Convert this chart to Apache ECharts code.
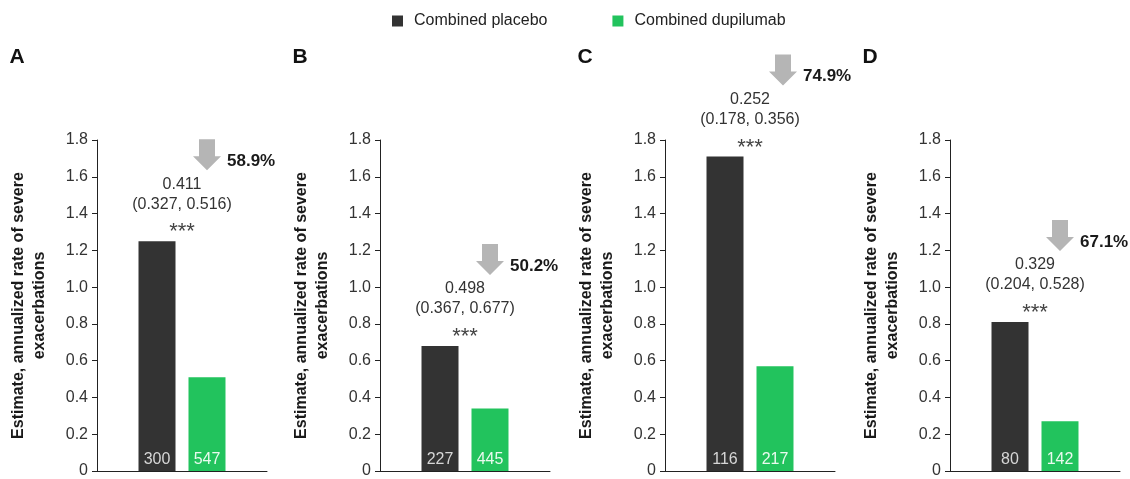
<!DOCTYPE html>
<html>
<head>
<meta charset="utf-8">
<script src="https://cdn.jsdelivr.net/npm/echarts@6/dist/echarts.min.js"></script>
<style>
  html, body { margin: 0; padding: 0; background: #fff; }
  #chart { width: 1130px; height: 479px; }
</style>
</head>
<body>
<div id="chart"></div>
<script>
// Annualized severe exacerbation rates, four subgroups
const panels = ['A', 'B', 'C', 'D'];
const seriesNames = ['Combined placebo', 'Combined dupilumab'];
const placeboRate = [1.25, 0.68, 1.71, 0.81];
const dupilumabRate = [0.51, 0.34, 0.57, 0.27];
const placeboN = [300, 227, 116, 80];
const dupilumabN = [547, 445, 217, 142];
const rateRatio = ['0.411', '0.498', '0.252', '0.329'];
const ratioCI = ['(0.327, 0.516)', '(0.367, 0.677)', '(0.178, 0.356)', '(0.204, 0.528)'];
const significance = ['***', '***', '***', '***'];
const reduction = ['58.9%', '50.2%', '74.9%', '67.1%'];
const yTicks = [0, 0.2, 0.4, 0.6, 0.8, 1.0, 1.2, 1.4, 1.6, 1.8];

const FONT = '"Liberation Sans", Arial, Helvetica, sans-serif';
const COLORS = ['#333333', '#22c35d'];
const gridLefts = [97, 380, 665, 950];
const BAR_W = 37, BAR_GAP = 13;

const chart = echarts.init(document.getElementById('chart'), null, { renderer: 'canvas' });

const grids = [], xAxes = [], yAxes = [], series = [];
panels.forEach((p, i) => {
  grids.push({ left: gridLefts[i], width: 170, top: 140, height: 332 });
  xAxes.push({
    type: 'category', gridIndex: i, data: [p],
    axisLine: { lineStyle: { color: '#222', width: 1 } },
    axisTick: { show: false }, axisLabel: { show: false }
  });
  yAxes.push({
    type: 'value', gridIndex: i, min: yTicks[0], max: yTicks[yTicks.length - 1], interval: 0.2,
    name: 'Estimate, annualized rate of severe\nexacerbations',
    nameLocation: 'middle', nameRotate: 90, nameGap: 47,
    nameTextStyle: { fontFamily: FONT, fontSize: 16, fontWeight: 'bold', color: '#1a1a1a', lineHeight: 21 },
    axisLine: { show: true, lineStyle: { color: '#222', width: 1 } },
    axisTick: { show: true, length: 5, lineStyle: { color: '#222' } },
    axisLabel: {
      fontFamily: FONT, fontSize: 16, color: '#333', margin: 9,
      formatter: v => (v === 0 ? '0' : v.toFixed(1))
    },
    splitLine: { show: false }
  });
  [placeboRate, dupilumabRate].forEach((vals, k) => {
    const nVals = k === 0 ? placeboN : dupilumabN;
    series.push({
      type: 'bar', name: seriesNames[k], xAxisIndex: i, yAxisIndex: i,
      data: [vals[i]], barWidth: BAR_W, barGap: (BAR_GAP / BAR_W * 100).toFixed(1) + '%',
      itemStyle: { color: COLORS[k] },
      label: {
        show: true, position: 'insideBottom', distance: 3,
        formatter: () => String(nVals[i]),
        fontFamily: FONT, fontSize: 16, color: k === 0 ? '#d6d6d6' : '#eafaef'
      },
      emphasis: { disabled: true }, silent: true
    });
  });
});

chart.setOption({
  animation: false,
  textStyle: { fontFamily: FONT },
  legend: {
    data: seriesNames, left: 387, top: 8, icon: 'rect',
    itemWidth: 11, itemHeight: 11, itemGap: 65,
    textStyle: { fontFamily: FONT, fontSize: 16, color: '#222', padding: [0, 0, 0, 6] },
    selectedMode: false
  },
  grid: grids, xAxis: xAxes, yAxis: yAxes, series: series
});

// Annotations: panel letters, rate ratio with CI, significance and reduction arrows
const graphics = [];
const ARROW_NUDGE = [0, 0, 8, 0];
panels.forEach((p, i) => {
  const centerX = chart.convertToPixel({ xAxisIndex: i }, p);
  const barTop = chart.convertToPixel({ yAxisIndex: i }, placeboRate[i]);
  const dupX = centerX + (BAR_W + BAR_GAP) / 2;
  const text = (str, x, y, style) => graphics.push({
    type: 'text', x, y, silent: true,
    style: Object.assign({ text: str, fontFamily: FONT, fill: '#333', fontSize: 16, align: 'center', verticalAlign: 'middle' }, style)
  });
  text(p, gridLefts[i] - 80, 57, { fontSize: 21, fontWeight: 'bold', fill: '#111', align: 'center' });
  text(rateRatio[i], centerX, barTop - 57, {});
  text(ratioCI[i], centerX, barTop - 37, {});
  text(significance[i], centerX, barTop - 9, { fontSize: 22, fill: '#444' });
  const ax = dupX + ARROW_NUDGE[i];
  const tip = barTop - 71;
  const top = tip - 31;
  graphics.push({
    type: 'polygon', silent: true,
    shape: { points: [
      [ax - 8, top], [ax + 8, top], [ax + 8, tip - 14], [ax + 14, tip - 14],
      [ax, tip], [ax - 14, tip - 14], [ax - 8, tip - 14]
    ] },
    style: { fill: '#b5b5b5' }
  });
  text(reduction[i], ax + 20, tip - 9, { align: 'left', fontWeight: 'bold', fill: '#1a1a1a', fontSize: 17 });
});
chart.setOption({ graphic: graphics });
</script>
</body>
</html>
